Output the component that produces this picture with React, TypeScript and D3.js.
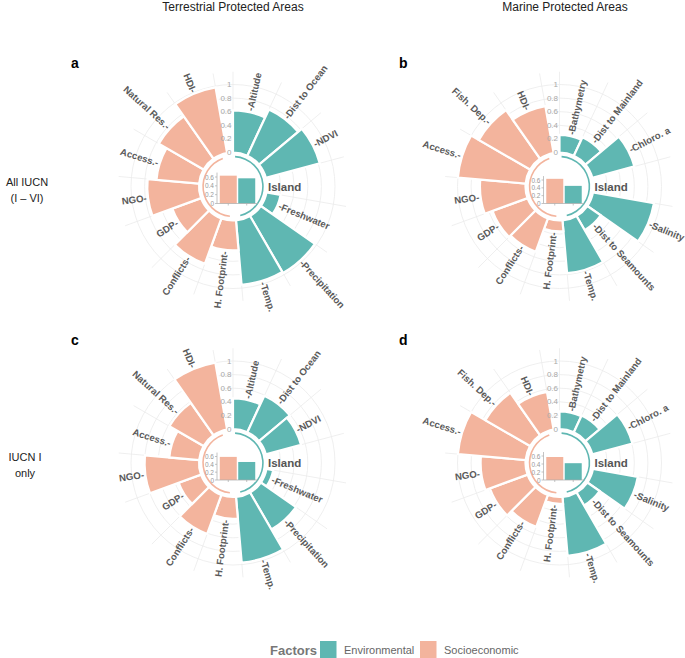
import React from "react";
import * as d3 from "d3";

// ---------- data ----------
const envTerrestrial = ["Altitude", "Dist to Ocean", "NDVI", "Freshwater", "Precipitation", "Temp."];
const socTerrestrial = ["H. Footprint", "Conflicts", "GDP", "NGO", "Access.", "Natural Res.", "HDI"];
const envMarine = ["Bathymetry", "Dist to Mainland", "Chloro. a", "Salinity", "Dist to Seamounts", "Temp."];
const socMarine = ["H. Footprint", "Conflicts", "GDP", "NGO", "Access.", "Fish. Dep.", "HDI"];

// panel a: Terrestrial, all IUCN
const envA = [0.62, 0.75, 0.82, 0.21, 0.97, 0.95];
const socA = [0.44, 0.71, 0.45, 0.76, 0.63, 0.76, 0.98];
// panel b: Marine, all IUCN
const envB = [0.26, 0.3, 0.64, 0.91, 0.24, 0.78];
const socB = [0.16, 0.52, 0.55, 0.67, 1.0, 0.87, 0.7];
// panel c: Terrestrial, IUCN I
const envC = [0.45, 0.59, 0.535, 0.1, 0.63, 0.97];
const socC = [0.32, 0.61, 0.35, 0.8, 0.44, 0.58, 1.0];
// panel d: Marine, IUCN I
const envD = [0.26, 0.27, 0.61, 0.67, 0.22, 0.87];
const socD = [0.1, 0.5, 0.59, 0.66, 1.0, 0.76, 0.56];

// island inset: [Socioeconomic, Environmental]
const insetA = [0.63, 0.57];
const insetB = [0.63, 0.45];
const insetC = [0.59, 0.46];
const insetD = [0.575, 0.42];

const insetCats = ["Socioeconomic", "Environmental"];
const radialTicks = [0, 0.2, 0.4, 0.6, 0.8, 1];
const radialTickLabels = ["0", "0.2", "0.4", "0.6", "0.8", "1"];
const insetTicks = [0, 0.2, 0.4, 0.6];
const insetTickLabels = ["0", "0.2", "0.4", "0.6"];
const columnTitles = ["Terrestrial Protected Areas", "Marine Protected Areas"];
const legendLabels = ["Environmental", "Socioeconomic"];

// ---------- style ----------
const TEAL = "#5fb7b2";
const SALMON = "#f3b49d";
const FONT = "'Liberation Sans', Arial, Helvetica, sans-serif";
const GRID = "#ebebeb";

const SLOT = 25; // degrees per slot
const envSlots = [0, 1, 2, 4, 5, 6];
const socSlots = [7, 8, 9, 10, 11, 12, 13];
const R = 102;

const rad = (deg: number) => (deg * Math.PI) / 180;

type PanelProps = {
  cx: number;
  cy: number;
  letter: string;
  lx: number;
  ly: number;
  envNames: string[];
  socNames: string[];
  envVals: number[];
  socVals: number[];
  inset: number[];
  insetH: number;
};

function Panel(p: PanelProps) {
  const r = d3.scaleLinear().domain([-0.5, 1]).range([0, R]);
  const arc = d3.arc<any>();

  const bars = [
    ...p.envNames.map((n, i) => ({ name: n, v: p.envVals[i], slot: envSlots[i], color: TEAL })),
    ...p.socNames.map((n, i) => ({ name: n, v: p.socVals[i], slot: socSlots[i], color: SALMON })),
  ];

  const spokes = d3.range(0, 15).map((i) => i * SLOT);

  const ringR = r(-0.06);
  const ringArc = (a0: number, a1: number) =>
    arc({ innerRadius: ringR - 0.8, outerRadius: ringR + 0.8, startAngle: rad(a0), endAngle: rad(a1) });

  // inset
  const y0 = p.cy + 17;
  const ys = d3.scaleLinear().domain([0, 0.6]).range([y0, y0 - p.insetH]);
  const axisX = p.cx - 16;
  const xs = d3.scaleBand().domain(insetCats).range([axisX, axisX + 41]).paddingInner(0.08).paddingOuter(0.15);

  return (
    <g>
      <text x={p.lx} y={p.ly} fontFamily={FONT} fontWeight="bold" fontSize={14} fill="#000">
        {p.letter}
      </text>
      <g transform={`translate(${p.cx},${p.cy})`}>
        {radialTicks.slice(1).map((t) => (
          <circle key={t} r={r(t)} fill="none" stroke={GRID} strokeWidth={0.8} />
        ))}
        {spokes.map((a) => (
          <line
            key={a}
            x1={r(0) * Math.sin(rad(a))}
            y1={-r(0) * Math.cos(rad(a))}
            x2={R * 1.125 * Math.sin(rad(a))}
            y2={-R * 1.125 * Math.cos(rad(a))}
            stroke={GRID}
            strokeWidth={0.8}
          />
        ))}
        {bars.map((b) => (
          <path
            key={b.name + b.slot}
            d={
              arc({
                innerRadius: r(0),
                outerRadius: r(b.v),
                startAngle: rad(b.slot * SLOT),
                endAngle: rad((b.slot + 1) * SLOT),
              }) as string
            }
            fill={b.color}
            stroke="#fff"
            strokeWidth={2.2}
          />
        ))}
        <path d={ringArc(4, 166) as string} fill={TEAL} />
        <path d={ringArc(186, 340) as string} fill={SALMON} />
        {radialTicks.map((t, i) => (
          <text
            key={t}
            x={-1.5}
            y={-r(t)}
            textAnchor="end"
            dominantBaseline="central"
            fontFamily={FONT}
            fontSize={8}
            fill="#a8a8a8"
          >
            {radialTickLabels[i]}
          </text>
        ))}
        {bars.map((b) => {
          const th = (b.slot + 0.5) * SLOT;
          const rho = r(b.v) + 1.5;
          const x = rho * Math.sin(rad(th));
          const y = -rho * Math.cos(rad(th));
          const right = th < 180;
          const rot = right ? th - 90 : th + 90;
          return (
            <text
              key={"l" + b.name + b.slot}
              transform={`translate(${x},${y}) rotate(${rot})`}
              textAnchor={right ? "start" : "end"}
              dominantBaseline="central"
              fontFamily={FONT}
              fontWeight="bold"
              fontSize={9.6}
              fill="#5a5a5a"
            >
              {right ? "-" + b.name : b.name + "-"}
            </text>
          );
        })}
        <text x={35} y={0} dominantBaseline="central" fontFamily={FONT} fontWeight="bold" fontSize={11.5} fill="#555">
          Island
        </text>
      </g>
      {/* inset bar chart */}
      <g>
        {insetCats.map((c, i) => (
          <rect
            key={c}
            x={xs(c)}
            y={ys(p.inset[i])}
            width={xs.bandwidth()}
            height={y0 - ys(p.inset[i])}
            fill={i === 0 ? SALMON : TEAL}
          />
        ))}
        <line x1={axisX} y1={y0} x2={axisX} y2={ys(0.7)} stroke="#aaa" strokeWidth={0.7} />
        <line x1={axisX} y1={y0} x2={axisX + 41} y2={y0} stroke="#aaa" strokeWidth={0.7} />
        {insetTicks.map((t, i) => (
          <g key={t}>
            <line x1={axisX - 2} x2={axisX} y1={ys(t)} y2={ys(t)} stroke="#aaa" strokeWidth={0.7} />
            <text
              x={axisX - 3}
              y={ys(t)}
              textAnchor="end"
              dominantBaseline="central"
              fontFamily={FONT}
              fontSize={6.5}
              fill="#999"
            >
              {insetTickLabels[i]}
            </text>
          </g>
        ))}
        {insetCats.map((c) => (
          <line
            key={"t" + c}
            x1={(xs(c) as number) + xs.bandwidth() / 2}
            x2={(xs(c) as number) + xs.bandwidth() / 2}
            y1={y0}
            y2={y0 + 2}
            stroke="#aaa"
            strokeWidth={0.7}
          />
        ))}
      </g>
    </g>
  );
}

export default function App() {
  return (
    <svg
      width={685}
      height={658}
      viewBox="0 0 685 658"
      style={{ position: "absolute", left: 0, top: 0, background: "#fff" }}
    >
      <rect width={685} height={658} fill="#fff" />
      <text x={233} y={11} textAnchor="middle" fontFamily={FONT} fontSize={12} fill="#222">
        {columnTitles[0]}
      </text>
      <text x={565} y={11} textAnchor="middle" fontFamily={FONT} fontSize={12} fill="#222">
        {columnTitles[1]}
      </text>

      <text textAnchor="middle" fontFamily={FONT} fontSize={11} fill="#222">
        <tspan x={27} y={186}>All IUCN</tspan>
        <tspan x={27} y={202}>(I – VI)</tspan>
      </text>
      <text textAnchor="middle" fontFamily={FONT} fontSize={11} fill="#222">
        <tspan x={25} y={461}>IUCN I</tspan>
        <tspan x={25} y={477}>only</tspan>
      </text>

      <Panel cx={233} cy={186.5} letter="a" lx={71} ly={68} envNames={envTerrestrial} socNames={socTerrestrial} envVals={envA} socVals={socA} inset={insetA} insetH={26.5} />
      <Panel cx={559.5} cy={186.5} letter="b" lx={399} ly={68} envNames={envMarine} socNames={socMarine} envVals={envB} socVals={socB} inset={insetB} insetH={23.5} />
      <Panel cx={233} cy={463} letter="c" lx={71} ly={345} envNames={envTerrestrial} socNames={socTerrestrial} envVals={envC} socVals={socC} inset={insetC} insetH={23.5} />
      <Panel cx={559.5} cy={463} letter="d" lx={399} ly={345} envNames={envMarine} socNames={socMarine} envVals={envD} socVals={socD} inset={insetD} insetH={24} />

      {/* legend */}
      <text x={270} y={654.5} fontFamily={FONT} fontSize={13} fontWeight="bold" fill="#777">
        Factors
      </text>
      <rect x={320} y={641} width={16.5} height={17.5} fill={TEAL} />
      <text x={344} y={654} fontFamily={FONT} fontSize={11} fill="#666">
        {legendLabels[0]}
      </text>
      <rect x={420} y={641} width={16.5} height={17.5} fill={SALMON} />
      <text x={444} y={654} fontFamily={FONT} fontSize={11} fill="#666">
        {legendLabels[1]}
      </text>
    </svg>
  );
}
